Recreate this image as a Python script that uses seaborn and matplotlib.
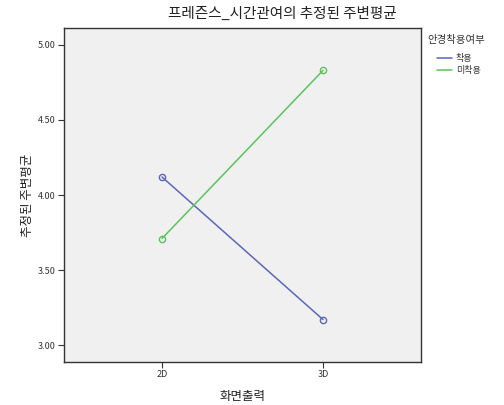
import matplotlib
matplotlib.use("Agg")
import matplotlib.pyplot as plt
import seaborn as sns
import pandas as pd
from matplotlib.lines import Line2D

output_types = ["2D", "3D"]
wear_means = [4.12, 3.17]      # 착용
nowear_means = [3.71, 4.83]    # 미착용
groups = ["착용", "미착용"]
yticks = [3.0, 3.5, 4.0, 4.5, 5.0]

df = pd.DataFrame({
    "화면출력": output_types * 2,
    "mean": wear_means + nowear_means,
    "안경착용여부": [groups[0]] * 2 + [groups[1]] * 2,
})

sns.set_style("white")
plt.rcParams['font.family'] = ['Noto Sans CJK KR', 'DejaVu Sans']

fig = plt.figure(figsize=(5.04, 4.05), dpi=100)
ax = fig.add_axes([63.5/504, 1-362/405, (421-63.5)/504, (362-28)/405])
ax.set_facecolor("#f0f0f0")

palette = {groups[0]: "#5b67b8", groups[1]: "#5cc35c"}
sns.lineplot(data=df, x="화면출력", y="mean", hue="안경착용여부", palette=palette,
             marker="o", markersize=4.5, markerfacecolor="none", markeredgewidth=1.0,
             linewidth=1.1, ax=ax, legend=False)
for line, g in zip(ax.lines, groups):
    line.set_markeredgecolor(palette[g])

ax.set_xlim(-0.612, 1.609)
ax.set_ylim(2.887, 5.113)
ax.set_yticks(yticks)
ax.set_yticklabels([f"{v:.2f}" for v in yticks])
ax.tick_params(axis="both", direction="out", length=4, width=0.8, labelsize=6.5,
               colors="#333333", pad=1.5, left=True, bottom=True)
for s in ax.spines.values():
    s.set_color("#333333")
    s.set_linewidth(1.0)

ax.set_xlabel("화면출력", fontsize=9, labelpad=8, color="#222222")
ax.set_ylabel("추정된 주변평균", fontsize=9, labelpad=3, color="#222222")

fig.text(282/504, 1-14/405, "프레즌스_시간관여의 추정된 주변평균", ha="center", va="center",
         fontsize=10.5, color="#222222")

# legend
fig.text(427/504, 1-40/405, "안경착용여부", ha="left", va="center", fontsize=7.5, color="#333333")
for i, g in enumerate(groups):
    y = 1 - (58 + 12*i)/405
    fig.add_artist(Line2D([437/504, 452/504], [y, y], color=palette[g], linewidth=1.1,
                          transform=fig.transFigure))
    fig.text(456/504, y, g, ha="left", va="center", fontsize=6.5, color="#333333")

fig.savefig("out.png", dpi=100, facecolor="white")
